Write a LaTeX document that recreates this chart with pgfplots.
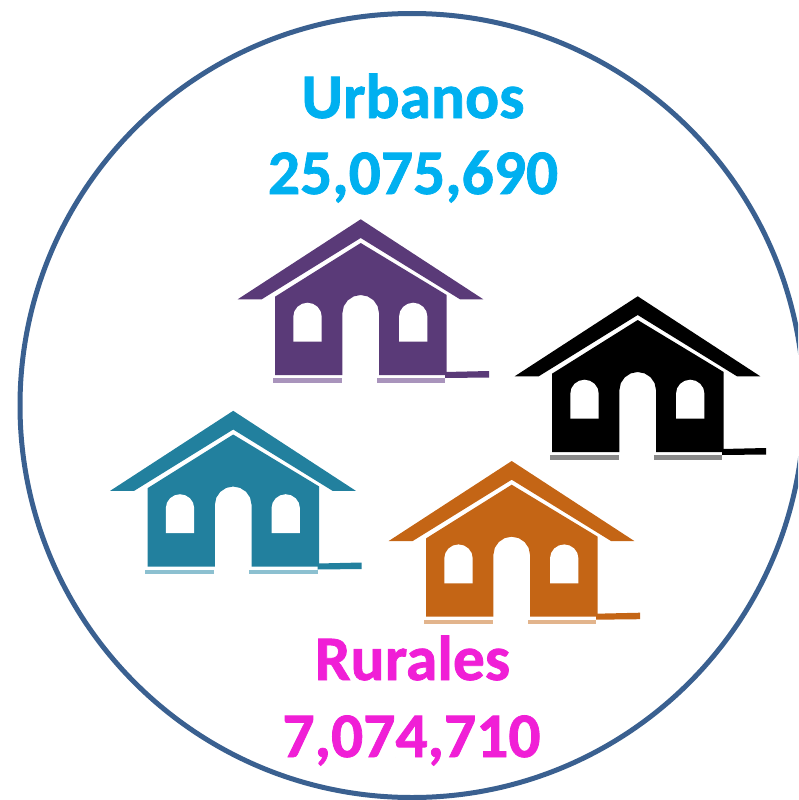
\documentclass[border=0pt]{standalone}
\usepackage{pgfplots}
\usepackage{pgfplotstable}
\usepackage{fontspec}
\setmainfont{Carlito}[BoldFeatures={FakeBold=1.2}]
\pgfplotsset{compat=1.18}
\definecolor{ringc}{HTML}{3A6090}
\definecolor{cyanc}{HTML}{00B0F0}
\definecolor{magc}{HTML}{F01FD6}
\definecolor{purp}{HTML}{5A3A78}
\definecolor{purpl}{HTML}{A994BC}
\definecolor{blk}{HTML}{000000}
\definecolor{blkl}{HTML}{8A8A8A}
\definecolor{teal2}{HTML}{22809E}
\definecolor{teal2l}{HTML}{8CC0D0}
\definecolor{oran}{HTML}{C46515}
\definecolor{oranl}{HTML}{E2B48C}
\pgfplotstableread{
x y
360.7 219.3
483.3 299.3
460.0 299.3
360.7 238.0
261.7 299.3
237.7 299.3
}\roof
\pgfplotstableread{
x y
360.7 243.0
446.7 295.0
446.7 375.0
379.0 375.0
379.0 313.0
377.6 306.1
373.6 300.3
367.7 296.4
360.7 295.0
353.7 296.4
347.8 300.3
343.8 306.1
342.4 313.0
342.4 375.0
275.0 375.0
275.0 296.7
}\body
\pgfplotstableread{
x y
293.3 341.7
293.3 316.7
294.4 311.3
297.5 306.8
302.1 303.8
307.5 302.7
312.9 303.8
317.5 306.8
320.6 311.3
321.7 316.7
321.7 341.7
}\winl
\pgfplotstableread{
x y
399.0 341.7
399.0 316.7
400.1 311.3
403.2 306.8
407.8 303.8
413.2 302.7
418.6 303.8
423.2 306.8
426.3 311.3
427.4 316.7
427.4 341.7
}\winr
\pgfplotstableread{
x y
272.7 378.0
341.7 378.0
341.7 382.7
272.7 382.7
}\footl
\pgfplotstableread{
x y
376.7 378.0
445.0 378.0
445.0 382.7
376.7 382.7
}\footr
\pgfplotstableread{
x y
445.0 372.0
489.0 371.0
489.0 377.5
445.0 378.0
}\tail
\newcommand{\house}[4]{%
  \addplot[fill=#3,draw=none,forget plot] table[x expr=\thisrow{x}+#1,y expr=\thisrow{y}+#2] {\roof} -- cycle;
  \addplot[fill=#3,draw=none,forget plot] table[x expr=\thisrow{x}+#1,y expr=\thisrow{y}+#2] {\body} -- cycle;
  \addplot[fill=white,draw=none,forget plot] table[x expr=\thisrow{x}+#1,y expr=\thisrow{y}+#2] {\winl} -- cycle;
  \addplot[fill=white,draw=none,forget plot] table[x expr=\thisrow{x}+#1,y expr=\thisrow{y}+#2] {\winr} -- cycle;
  \addplot[fill=#4,draw=none,forget plot] table[x expr=\thisrow{x}+#1,y expr=\thisrow{y}+#2] {\footl} -- cycle;
  \addplot[fill=#4,draw=none,forget plot] table[x expr=\thisrow{x}+#1,y expr=\thisrow{y}+#2] {\footr} -- cycle;
  \addplot[fill=#3,draw=none,forget plot] table[x expr=\thisrow{x}+#1,y expr=\thisrow{y}+#2] {\tail} -- cycle;
}
\begin{document}
\begin{tikzpicture}
\useasboundingbox (0,0) rectangle (798pt,800pt);
\begin{axis}[
  at={(0,0)}, anchor=south west,
  scale only axis, width=798pt, height=800pt,
  xmin=0, xmax=798, ymin=0, ymax=800, y dir=reverse,
  hide axis, clip=true]
  \draw[ringc, line width=5pt] (axis cs:412,405.5) circle [radius=392];
  \house{0}{0}{purp}{purpl}
  \house{277}{77}{blk}{blkl}
  \house{-127.5}{191.5}{teal2}{teal2l}
  \house{151}{241.7}{oran}{oranl}
  \node[anchor=base,text=cyanc,font=\fontsize{63.5}{70}\selectfont\bfseries] at (axis cs:413,118) {Urbanos};
  \node[anchor=base,text=cyanc,font=\fontsize{63.5}{70}\selectfont\bfseries] at (axis cs:413,194) {25,075,690};
  \node[anchor=base,text=magc,font=\fontsize{63.5}{70}\selectfont\bfseries] at (axis cs:412.5,680) {Rurales};
  \node[anchor=base,text=magc,font=\fontsize{63.5}{70}\selectfont\bfseries] at (axis cs:411.5,757) {7,074,710};
\end{axis}
\end{tikzpicture}
\end{document}
